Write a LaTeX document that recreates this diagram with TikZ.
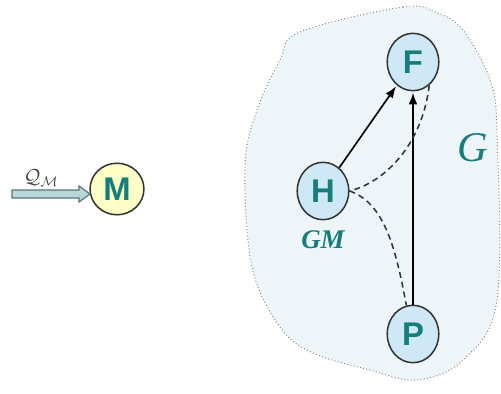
\documentclass[tikz,border=0pt]{standalone}
\usepackage{fontspec}
\setmainfont{Liberation Serif}
\setsansfont{Liberation Sans}
\usetikzlibrary{shapes.geometric,arrows.meta}

\definecolor{tealtext}{RGB}{22,126,122}
\definecolor{nodeblue}{RGB}{206,232,246}
\definecolor{nodeyellow}{RGB}{255,255,200}
\definecolor{blobfill}{RGB}{238,245,248}
\definecolor{inflow}{RGB}{184,214,214}
\definecolor{inflowline}{RGB}{85,120,125}

\begin{document}
\begin{tikzpicture}[
    x=0.03cm,
    y=-0.03cm,
    vertex/.style={ellipse, draw=black!80, line width=1.3pt, fill=nodeblue,
        minimum width=44pt, minimum height=49pt, inner sep=0pt,
        font=\sffamily\bfseries\fontsize{28}{28}\selectfont, text=tealtext},
    link/.style={line width=1.4pt, -{Latex[length=10pt,width=7.5pt]}, shorten >=1pt},
    cov/.style={line width=1.3pt, dash pattern=on 5pt off 3.5pt, black!80}
]

    \useasboundingbox (0,0) rectangle (501,394);

    % model region G
    \draw[dotted, gray, line width=0.8pt, fill=blobfill] plot[smooth cycle, tension=0.6] coordinates {
        (300,32) (403,7) (437,13) (463,30) (490,80) (497,133) (497,300)
        (463,360) (417,380) (370,370) (313,353) (280,327) (252,267)
        (245,167) (257,110) (280,60)};

    \node[vertex, fill=nodeyellow, minimum width=46pt, minimum height=44pt] (M) at (117,189) {M};
    \node[vertex] (F) at (413,62) {F};
    \node[vertex] (H) at (323,191) {H};
    \node[vertex] (P) at (413,334) {P};

    % inflow into M
    \draw[draw=inflowline, line width=1pt, fill=inflow]
        (12,190) -- (79,190) -- (79,186) -- (90,194) -- (79,202) -- (79,198) -- (12,198) -- cycle;
    \node[text=black!75, font=\LARGE] (qlabel) at (41,178) {$\mathcal{Q}_{\mathcal{M}}$};

    \node[text=tealtext, font=\fontsize{23}{23}\selectfont\bfseries\itshape] (gmlabel) at (323,240) {GM};
    \node[text=tealtext, font=\fontsize{36}{36}\selectfont\itshape] (glabel) at (473,148) {G};

    \draw[link] (H) -- (F);
    \draw[link] (P) -- (F);

    \draw[cov] (F.-55) .. controls (422,145) and (385,182) .. (H.east);
    \draw[cov] (H.east) .. controls (385,203) and (396,250) .. (P.103);

\end{tikzpicture}
\end{document}
